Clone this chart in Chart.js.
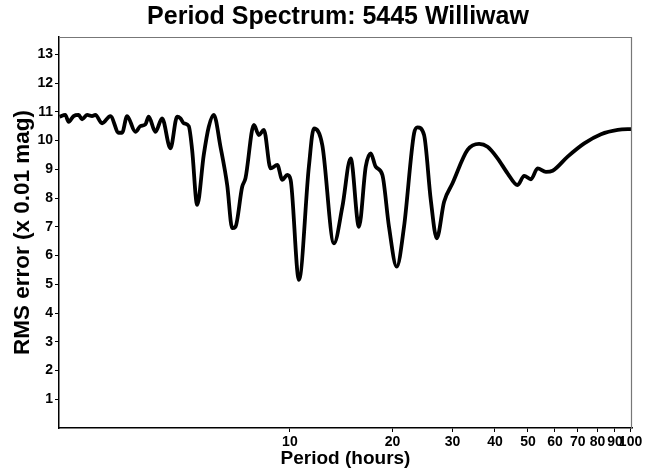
<!DOCTYPE html>
<html>
<head>
<meta charset="utf-8">
<script src="https://cdn.jsdelivr.net/npm/chart.js@4/dist/chart.umd.min.js"></script>
<style>
html,body{margin:0;padding:0;background:#fff;}
#wrap{width:652px;height:471px;}
</style>
</head>
<body>
<div id="wrap"><canvas id="c" width="652" height="471"></canvas></div>
<script>
const chartTitle = 'Period Spectrum: 5445 Williwaw';
const xAxisTitle = 'Period (hours)';
const yAxisTitle = 'RMS error (x 0.01 mag)';

const periodHours = [2.108, 2.191, 2.241, 2.318, 2.398, 2.454, 2.538, 2.626, 2.685, 2.81,
  2.972, 3.144, 3.217, 3.327, 3.519, 3.64, 3.765, 3.85, 4.029, 4.216,
  4.46, 4.667, 4.772, 4.88, 5.048, 5.165, 5.343, 5.587, 5.78, 5.979,
  6.256, 6.546, 6.771, 6.923, 7.244, 7.408, 7.84, 8.11, 8.389, 8.777,
  9.184, 9.5, 9.826, 10.05, 10.63, 11.37, 11.76, 12.45, 13.47, 14.26,
  15.08, 15.95, 16.7, 17.27, 17.86, 18.69, 19.54, 20.59, 21.63, 23.15,
  23.69, 24.77, 25.92, 26.99, 28.36, 30.02, 33.23, 35.94, 38.04, 40.7,
  43.55, 46.6, 48.73, 51.0, 53.36, 56.44, 59.06, 65.38, 73.14, 81.9,
  91.72, 101.5];

const rmsError = [10.83, 10.89, 10.65, 10.85, 10.89, 10.74, 10.89, 10.85, 10.89, 10.6,
  10.85, 10.27, 10.27, 10.85, 10.3, 10.5, 10.56, 10.83, 10.3, 10.77,
  9.73, 10.83, 10.77, 10.6, 10.5, 9.67, 7.76, 9.5, 10.48, 10.89,
  9.78, 8.45, 6.95, 7.0, 8.39, 8.69, 10.54, 10.19, 10.37, 9.03,
  9.15, 8.63, 8.8, 8.63, 5.15, 9.09, 10.42, 9.84, 6.42, 7.7,
  9.38, 7.0, 9.09, 9.55, 9.09, 8.8, 7.0, 5.61, 7.0, 10.25,
  10.46, 10.19, 7.93, 6.6, 7.87, 8.51, 9.67, 9.88, 9.78, 9.38,
  8.86, 8.45, 8.77, 8.65, 9.03, 8.91, 8.95, 9.44, 9.9, 10.22,
  10.37, 10.4];

const xTickValues = [10, 20, 30, 40, 50, 60, 70, 80, 90, 100];
const yTickValues = [1, 2, 3, 4, 5, 6, 7, 8, 9, 10, 11, 12, 13];
const xRange = [2.1, 101];
const yRange = [0, 13.6];

const points = periodHours.map((p, i) => ({ x: p, y: rmsError[i] }));

const framePlugin = {
  id: 'frame',
  afterDatasetsDraw(chart) {
    const { ctx, chartArea: a } = chart;
    ctx.save();
    ctx.strokeStyle = '#777';
    ctx.lineWidth = 1.2;
    ctx.beginPath();
    ctx.moveTo(a.left, a.top + 0.5);
    ctx.lineTo(a.right - 0.5, a.top + 0.5);
    ctx.lineTo(a.right - 0.5, a.bottom);
    ctx.stroke();
    ctx.restore();
  }
};

const titleShift = {
  id: 'titleShift',
  afterLayout(chart) {
    const t = chart.titleBlock;
    if (t) { t.left = 24; t.right = chart.width; }
  }
};

const fontFamily = '"Liberation Sans", Arial, sans-serif';

new Chart(document.getElementById('c'), {
  type: 'line',
  data: {
    datasets: [{
      data: points,
      borderColor: '#000',
      borderWidth: 3.8,
      pointRadius: 0,
      fill: false,
      cubicInterpolationMode: 'monotone'
    }]
  },
  options: {
    responsive: false,
    animation: false,
    devicePixelRatio: 1,
    layout: { padding: { left: 0, right: 20, top: 0, bottom: 0 } },
    plugins: {
      legend: { display: false },
      tooltip: { enabled: false },
      title: {
        display: true,
        text: chartTitle,
        color: '#000',
        font: { family: fontFamily, size: 25, weight: 'bold' },
        padding: { top: 2, bottom: 5 }
      }
    },
    scales: {
      x: {
        type: 'logarithmic',
        min: xRange[0],
        max: xRange[1],
        afterBuildTicks(scale) { scale.ticks = xTickValues.map(v => ({ value: v })); },
        afterFit(scale) { scale.height = 43; },
        grid: { display: true, drawOnChartArea: false, drawTicks: true, tickLength: 4, color: '#000', lineWidth: 1 },
        border: { display: true, color: '#000', width: 1.5 },
        ticks: {
          autoSkip: false, maxRotation: 0, minRotation: 0, padding: 2,
          color: '#000',
          font: { family: fontFamily, size: 14, weight: 'bold' },
          callback: (v) => xTickValues.includes(v) ? String(v) : ''
        },
        title: {
          display: true, text: xAxisTitle, color: '#000',
          font: { family: fontFamily, size: 19, weight: 'bold' },
          padding: { top: 0, bottom: 1 }
        }
      },
      y: {
        type: 'linear',
        min: yRange[0],
        max: yRange[1],
        afterFit(scale) { scale.width = 59; },
        grid: {
          display: true, drawOnChartArea: false, drawTicks: true, tickLength: 4, lineWidth: 1,
          color: (ctx) => (ctx.tick && yTickValues.includes(ctx.tick.value)) ? '#000' : 'rgba(0,0,0,0)'
        },
        border: { display: true, color: '#000', width: 1.5 },
        ticks: {
          stepSize: 1, includeBounds: false, autoSkip: false, padding: 2,
          color: '#000',
          font: { family: fontFamily, size: 14, weight: 'bold' },
          callback: (v) => yTickValues.includes(v) ? String(v) : ''
        },
        title: {
          display: true, text: yAxisTitle, color: '#000',
          font: { family: fontFamily, size: 22.5, weight: 'bold' },
          padding: { top: 9, bottom: 0 }
        }
      }
    }
  },
  plugins: [framePlugin, titleShift]
});
</script>
</body>
</html>
